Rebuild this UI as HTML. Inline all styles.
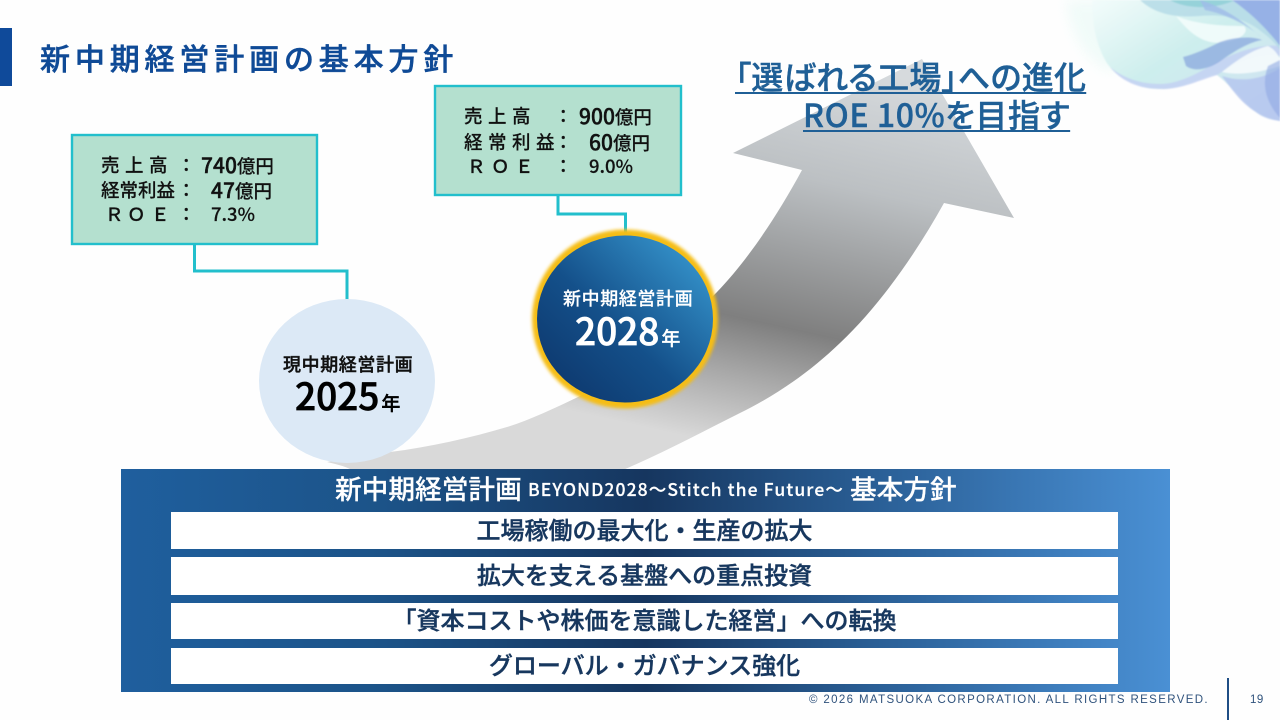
<!DOCTYPE html>
<html lang="ja"><head><meta charset="utf-8"><title>新中期経営計画の基本方針</title>
<style>
html,body{margin:0;padding:0;background:#fefefe}
#p{position:relative;width:1280px;height:720px;overflow:hidden;background:#fefefe;font-family:"Liberation Sans","Noto Sans CJK JP",sans-serif}
.t{position:absolute;white-space:nowrap;line-height:1;font-family:"Noto Sans CJK JP",sans-serif}
.b{font-size:18.500px;color:#111;font-weight:500;-webkit-text-stroke:.15px #111}
.n{font-size:21px;-webkit-text-stroke:.4px #111}
.row{position:absolute;left:171px;width:947px;background:#fff;text-align:center;color:#17375e;font:500 24px/1 "Noto Sans CJK JP",sans-serif;-webkit-text-stroke:.4px #17375e;white-space:nowrap}
svg{position:absolute;left:0;top:0}
</style></head><body><div id="p">
<svg width="1280" height="720" viewBox="0 0 1280 720">
<defs>
<linearGradient id="ar" gradientUnits="userSpaceOnUse" x1="834" y1="62" x2="749" y2="450">
<stop offset="0" stop-color="#d6dadd"/><stop offset=".3" stop-color="#bcc0c3"/><stop offset=".68" stop-color="#7f7f7f"/><stop offset=".82" stop-color="#a8a8a8"/><stop offset="1" stop-color="#d9d9d9"/>
</linearGradient>
<linearGradient id="w1" x1="0" y1="0" x2="1" y2="1"><stop offset="0" stop-color="#f3fcfb"/><stop offset=".45" stop-color="#cdeeed"/><stop offset=".75" stop-color="#cfe6f0"/><stop offset="1" stop-color="#c4d2f2"/></linearGradient>
<linearGradient id="blue" x1="0" y1="1" x2="1" y2="0"><stop offset=".12" stop-color="#0e3a70"/><stop offset=".45" stop-color="#14508a"/><stop offset=".9" stop-color="#3593cb"/></linearGradient>
<filter id="bl" x="-20%" y="-20%" width="140%" height="140%"><feGaussianBlur stdDeviation="6"/></filter>
<filter id="bs" x="-10%" y="-10%" width="120%" height="120%"><feGaussianBlur stdDeviation=".7"/></filter>
<filter id="gl" x="-20%" y="-20%" width="140%" height="140%"><feGaussianBlur stdDeviation="1.500"/></filter>
</defs>
<!-- wave -->
<path d="M1066 0C1068 30 1084 60 1110 72L1130 60L1110 0Z" fill="#eefbf8" filter="url(#bl)" opacity=".8"/>
<g filter="url(#bs)">
<path d="M1092 0C1092 16 1094 30 1097 40C1100 50 1104 60 1110 67C1117 74 1125 80 1133 83C1145 88 1150 89 1160 89C1172 89 1183 86 1193 82C1202 79 1210 75 1217 75C1224 80 1230 87 1237 93C1245 102 1252 110 1260 115C1267 119 1273 120 1280 121V0Z" fill="url(#w1)"/>
<path d="M1110 67C1125 80 1145 84 1160 84C1180 84 1200 72 1217 62C1240 50 1262 44 1280 46V56C1262 52 1240 60 1217 75C1200 80 1180 90 1160 89C1140 89 1122 82 1110 67Z" fill="#c3cff3" opacity=".8"/>
<path d="M1176 16C1195 24 1220 26 1244 26C1250 32 1240 40 1226 42C1205 46 1190 34 1176 16Z" fill="#f4fdfb" opacity=".85"/>
<path d="M1140 0C1155 14 1175 18 1200 16C1225 14 1245 18 1262 32C1270 38 1276 44 1280 50V0Z" fill="#b5dbe6" opacity=".85"/>
<path d="M1170 0C1185 9 1215 10 1235 0Z" fill="#8fd0d6" opacity=".85"/>
<path d="M1183 57C1195 54 1208 48 1220 42C1235 37 1252 36 1262 40C1250 42 1236 50 1222 60C1208 70 1194 72 1186 66Z" fill="#8aa8de" opacity=".75"/>
<path d="M1232 0C1250 12 1268 30 1280 46V0Z" fill="#94aee6" opacity=".95"/>
<path d="M1200 0C1220 6 1240 18 1262 38C1250 26 1226 14 1205 10Z" fill="#a0bde8" opacity=".85"/>
<path d="M1222 72C1232 64 1250 50 1268 46C1276 50 1278 56 1280 58V66C1262 72 1240 76 1222 72Z" fill="#f3fafb" opacity=".95"/>
<path d="M1222 76C1240 82 1262 80 1280 68V121C1250 115 1238 98 1222 76Z" fill="#b5c7ee" opacity=".85"/>
<path d="M1268 66C1262 82 1264 100 1280 118V60Z" fill="#8fa9e2" opacity=".6"/>
</g>
<!-- arrow -->
<path d="M327 462C345 459 370 455 390 452C430 447 470 438 507 427C530 420 555 408 578 397C630 372 675 335 717 292C745 263 775 220 802 170L733 153L922 59L1014 218L944 203C915 255 880 305 840 343C810 372 775 396 740 413C700 433 665 452 623 470L352 470C345 466 335 464 327 462Z" fill="url(#ar)"/>
<!-- connectors -->
<path d="M194.500 244V271H347V301" fill="none" stroke="#22bfcc" stroke-width="3"/>
<path d="M558 195V214H625.500V236" fill="none" stroke="#22bfcc" stroke-width="3"/>
<!-- boxes -->
<rect x="72" y="135" width="245" height="109" fill="#b4e0cf" stroke="#22bfcc" stroke-width="2.400"/>
<rect x="435" y="86" width="246" height="109" fill="#b4e0cf" stroke="#22bfcc" stroke-width="2.400"/>
<!-- circles -->
<ellipse cx="347" cy="381" rx="88" ry="82" fill="#dce9f6"/>
<ellipse cx="625" cy="319" rx="93" ry="89.500" fill="#f5bd12" filter="url(#gl)"/>
<ellipse cx="625" cy="319" rx="88" ry="83.500" fill="url(#blue)"/>
</svg>
<div style="position:absolute;left:0;top:28px;width:12px;height:58px;background:#0f4a9a"></div>
<div class="t" style="left:40px;top:42px;font-size:30px;letter-spacing:4.850px;color:#0f4a96;font-weight:500;-webkit-text-stroke:.5px #0f4a96">新中期経営計画の基本方針</div>

<div class="t" style="left:735px;top:60px;font-size:32px;letter-spacing:.25px;color:#1f5f96;font-weight:500;-webkit-text-stroke:.4px #1f5f96;font-feature-settings:'palt';text-decoration:underline;text-decoration-thickness:2px;text-underline-offset:3px">「選ばれる工場」への進化</div>
<div class="t" style="left:803px;top:98px;font-size:32px;letter-spacing:.6px;color:#1f5f96;font-weight:500;-webkit-text-stroke:.4px #1f5f96;font-feature-settings:'palt';text-decoration:underline;text-decoration-thickness:2px;text-underline-offset:3px">ROE 10%を目指す</div>

<!-- box 1 -->
<div class="t b" style="left:101px;top:156px;letter-spacing:5.500px">売上高</div>
<div class="t b" style="left:177px;top:156px">：</div>
<div class="t b" style="left:201px;top:155px"><span class="n">740</span>億円</div>
<div class="t b" style="left:101px;top:181px">経常利益</div>
<div class="t b" style="left:177px;top:181px">：</div>
<div class="t b" style="left:211px;top:180px"><span class="n">47</span>億円</div>
<div class="t b" style="left:105px;top:205px">Ｒ</div><div class="t b" style="left:127px;top:205px">Ｏ</div><div class="t b" style="left:151px;top:205px">Ｅ</div>
<div class="t b" style="left:177px;top:205px">：</div>
<div class="t b" style="left:211px;top:205px">7.3%</div>
<!-- box 2 -->
<div class="t b" style="left:464px;top:107px;letter-spacing:5.500px">売上高</div>
<div class="t b" style="left:554px;top:107px">：</div>
<div class="t b" style="left:579px;top:106px"><span class="n">900</span>億円</div>
<div class="t b" style="left:464px;top:133px;letter-spacing:5.500px">経常利益</div>
<div class="t b" style="left:554px;top:133px">：</div>
<div class="t b" style="left:589px;top:132px"><span class="n">60</span>億円</div>
<div class="t b" style="left:467px;top:157px">Ｒ</div><div class="t b" style="left:491px;top:157px">Ｏ</div><div class="t b" style="left:515px;top:157px">Ｅ</div>
<div class="t b" style="left:554px;top:157px">：</div>
<div class="t b" style="left:589px;top:157px">9.0%</div>

<!-- circle text -->
<div class="t" style="left:283px;top:355px;font-size:18px;letter-spacing:.600px;color:#111;font-weight:500;-webkit-text-stroke:.4px #111">現中期経営計画</div>
<div class="t" style="left:295px;top:376px;font-size:37px;color:#000;font-weight:500;-webkit-text-stroke:.7px #000">2025<span style="font-size:19px;margin-left:2px;-webkit-text-stroke:.4px #000">年</span></div>
<div class="t" style="left:563px;top:289px;font-size:18px;letter-spacing:.600px;color:#fff;font-weight:500;-webkit-text-stroke:.2px #fff">新中期経営計画</div>
<div class="t" style="left:575px;top:311px;font-size:37px;color:#fff;font-weight:500;-webkit-text-stroke:.7px #fff">2028<span style="font-size:19px;margin-left:2px;-webkit-text-stroke:.3px #fff">年</span></div>

<!-- panel -->
<div style="position:absolute;left:121px;top:469px;width:1049px;height:223px;background:linear-gradient(90deg,#1f5f9e 0%,#1c5388 25%,#16365f 50%,#2a5f96 72%,#4a90d4 100%)"></div>
<div class="t" style="left:335px;top:475px;font-size:26.700px;color:#fff;font-weight:500;-webkit-text-stroke:.2px #fff">新中期経営計画</div>
<div class="t" style="left:528px;top:481px;font-size:17.500px;letter-spacing:1.100px;color:#fff;font-weight:500;-webkit-text-stroke:.2px #fff">BEYOND2028～Stitch the Future～</div>
<div class="t" style="left:850px;top:475px;font-size:26.700px;color:#fff;font-weight:500;-webkit-text-stroke:.2px #fff">基本方針</div>
<div class="row" style="top:512px;height:37px;line-height:33px">工場稼働の最大化・生産の拡大</div>
<div class="row" style="top:557px;height:38px;line-height:33px">拡大を支える基盤への重点投資</div>
<div class="row" style="top:603px;height:36px;line-height:32px">「資本コストや株価を意識した経営」への転換</div>
<div class="row" style="top:648px;height:36px;line-height:32px">グローバル・ガバナンス強化</div>

<!-- footer -->
<div class="t" style="left:809px;top:695px;font-size:11.500px;letter-spacing:1.360px;color:#2f527c;font-family:'Liberation Sans',sans-serif">© 2026 MATSUOKA CORPORATION. ALL RIGHTS RESERVED.</div>
<div style="position:absolute;left:1227px;top:678px;width:2px;height:42px;background:#1f4e85"></div>
<div class="t" style="left:1250px;top:695px;font-size:11.500px;letter-spacing:.500px;color:#2f527c;font-family:'Liberation Sans',sans-serif">19</div>
</div></body></html>
